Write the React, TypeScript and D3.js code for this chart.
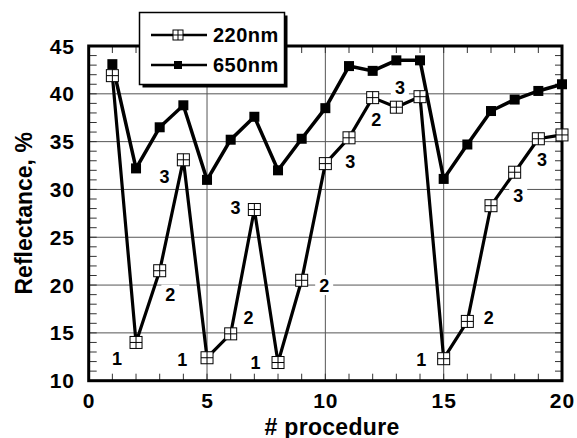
import React, { useEffect, useRef } from 'react';
import * as d3 from 'd3';

// values
const procedure = [1, 2, 3, 4, 5, 6, 7, 8, 9, 10, 11, 12, 13, 14, 15, 16, 17, 18, 19, 20];
const refl220 = [41.9, 14.0, 21.5, 33.1, 12.4, 14.9, 27.9, 11.9, 20.5, 32.7, 35.4, 39.6, 38.6, 39.7, 12.3, 16.2, 28.3, 31.8, 35.3, 35.7];
const refl650 = [43.1, 32.2, 36.5, 38.8, 31.0, 35.2, 37.6, 32.0, 35.3, 38.5, 42.9, 42.4, 43.5, 43.5, 31.1, 34.7, 38.2, 39.4, 40.3, 41.0];
const xTicks = [0, 5, 10, 15, 20];
const yTicks = [10, 15, 20, 25, 30, 35, 40, 45];
// step numbers written next to the 220nm points
const stepLabels = [
  { x: 1.2, y: 12.3, t: '1' }, { x: 3.45, y: 19.0, t: '2' }, { x: 3.2, y: 31.4, t: '3' },
  { x: 3.95, y: 12.2, t: '1' }, { x: 6.75, y: 16.6, t: '2' }, { x: 6.2, y: 28.1, t: '3' },
  { x: 7.05, y: 11.95, t: '1' }, { x: 9.95, y: 20.0, t: '2' }, { x: 11.05, y: 32.9, t: '3' },
  { x: 12.15, y: 37.35, t: '2' }, { x: 13.15, y: 40.65, t: '3' }, { x: 14.05, y: 12.2, t: '1' },
  { x: 16.9, y: 16.6, t: '2' }, { x: 18.15, y: 29.4, t: '3' }, { x: 19.15, y: 33.15, t: '3' },
];

const W = 577, H = 438;
const FONT = 'Liberation Sans, Arial, sans-serif';

function Chart() {
  const ref = useRef<SVGSVGElement>(null);

  useEffect(() => {
    const svg = d3.select(ref.current);
    svg.selectAll('*').remove();

    const x = d3.scaleLinear().domain([0, 20]).range([88.7, 562]);
    const y = d3.scaleLinear().domain([10, 45]).range([380.7, 46]);
    const [x0, x1] = x.range();
    const [y0, y1] = y.range();

    svg.append('rect').attr('width', W).attr('height', H).attr('fill', '#fff');

    // grid
    const grid = svg.append('g').attr('stroke', '#555').attr('stroke-width', 1);
    [5, 10, 15].forEach(v => {
      grid.append('line').attr('x1', x(v)).attr('x2', x(v)).attr('y1', y0).attr('y2', y1);
    });
    [15, 20, 25, 30, 35, 40].forEach(v => {
      grid.append('line').attr('x1', x0).attr('x2', x1).attr('y1', y(v)).attr('y2', y(v));
    });

    // minor ticks, inside, on all sides
    const ticks = svg.append('g').attr('stroke', '#333').attr('stroke-width', 1);
    d3.range(1, 20).forEach(v => {
      ticks.append('line').attr('x1', x(v)).attr('x2', x(v)).attr('y1', y0).attr('y2', y0 - 7);
      ticks.append('line').attr('x1', x(v)).attr('x2', x(v)).attr('y1', y1).attr('y2', y1 + 7);
    });
    d3.range(11, 45).forEach(v => {
      ticks.append('line').attr('x1', x0).attr('x2', x0 + 8).attr('y1', y(v)).attr('y2', y(v));
      ticks.append('line').attr('x1', x1).attr('x2', x1 - 7).attr('y1', y(v)).attr('y2', y(v));
    });

    // step labels with white knock-out
    const lab = svg.append('g');
    stepLabels.forEach(d => {
      lab.append('rect').attr('x', x(d.x) - 9).attr('y', y(d.y) - 10).attr('width', 18).attr('height', 20).attr('fill', '#fff');
      lab.append('text').attr('x', x(d.x)).attr('y', y(d.y) + 6.5)
        .attr('text-anchor', 'middle').attr('font-family', FONT).attr('font-weight', 'bold')
        .attr('font-size', 18).text(d.t);
    });

    // frame
    svg.append('rect').attr('x', x0).attr('y', y1).attr('width', x1 - x0).attr('height', y0 - y1)
      .attr('fill', 'none').attr('stroke', '#000').attr('stroke-width', 3);

    const line = (vals: number[]) => d3.line<number>().x((_, i) => x(procedure[i])).y(v => y(v))(vals);

    // 650nm
    svg.append('path').attr('d', line(refl650)).attr('fill', 'none').attr('stroke', '#000')
      .attr('stroke-width', 3.5).attr('stroke-linejoin', 'miter');
    svg.append('g').selectAll('rect').data(refl650).join('rect')
      .attr('x', (_, i) => x(procedure[i]) - 5).attr('y', v => y(v) - 5)
      .attr('width', 10).attr('height', 10).attr('fill', '#000');

    // 220nm
    svg.append('path').attr('d', line(refl220)).attr('fill', 'none').attr('stroke', '#000')
      .attr('stroke-width', 3.2);
    const openBox = (g: any, cx: number, cy: number, s: number) => {
      g.append('rect').attr('x', cx - s / 2).attr('y', cy - s / 2).attr('width', s).attr('height', s)
        .attr('fill', '#fff').attr('stroke', '#000').attr('stroke-width', 1);
      g.append('line').attr('x1', cx).attr('x2', cx).attr('y1', cy - s / 2).attr('y2', cy + s / 2)
        .attr('stroke', '#000').attr('stroke-width', 1);
      g.append('line').attr('x1', cx - s / 2).attr('x2', cx + s / 2).attr('y1', cy).attr('y2', cy)
        .attr('stroke', '#000').attr('stroke-width', 1);
    };
    const m220 = svg.append('g');
    refl220.forEach((v, i) => openBox(m220, x(procedure[i]), y(v), 12));

    // tick labels
    const tl = svg.append('g').attr('font-family', FONT).attr('font-weight', 'bold').attr('font-size', 21)
      .attr('letter-spacing', 1);
    yTicks.forEach(v => {
      tl.append('text').attr('x', 75).attr('y', y(v) + 7.5).attr('text-anchor', 'end').text(v);
    });
    xTicks.forEach(v => {
      tl.append('text').attr('x', x(v) + 0.5).attr('y', 408).attr('text-anchor', 'middle').text(v);
    });

    // axis titles
    svg.append('text').attr('transform', `translate(32,${(y0 + y1) / 2}) rotate(-90)`)
      .attr('text-anchor', 'middle').attr('font-family', FONT).attr('font-weight', 'bold')
      .attr('font-size', 23).text('Reflectance, %');
    svg.append('text').attr('x', 332).attr('y', 434.5)
      .attr('text-anchor', 'middle').attr('font-family', FONT).attr('font-weight', 'bold')
      .attr('font-size', 23).attr('letter-spacing', 0.3).text('# procedure');

    // legend
    const lg = svg.append('g');
    lg.append('rect').attr('x', 142.5).attr('y', 15.5).attr('width', 145).attr('height', 72).attr('fill', '#000');
    lg.append('rect').attr('x', 139.5).attr('y', 12.5).attr('width', 145).attr('height', 72)
      .attr('fill', '#fff').attr('stroke', '#000').attr('stroke-width', 1.5);
    const rows = [{ name: '220nm', yy: 35 }, { name: '650nm', yy: 65 }];
    rows.forEach((r, k) => {
      lg.append('line').attr('x1', 151).attr('x2', 207).attr('y1', r.yy).attr('y2', r.yy)
        .attr('stroke', '#000').attr('stroke-width', 2.5);
      if (k === 0) openBox(lg, 178, r.yy, 10);
      else lg.append('rect').attr('x', 174).attr('y', r.yy - 4).attr('width', 8).attr('height', 8).attr('fill', '#000');
      lg.append('text').attr('x', 213).attr('y', r.yy + 7).attr('font-family', FONT).attr('font-weight', 'bold')
        .attr('font-size', 20).attr('letter-spacing', 0.5).text(r.name);
    });
  }, []);

  return <svg ref={ref} width={W} height={H} style={{ display: 'block' }} />;
}

export default function App() {
  return (
    <>
      <style>{'body{margin:0}'}</style>
      <Chart />
    </>
  );
}
